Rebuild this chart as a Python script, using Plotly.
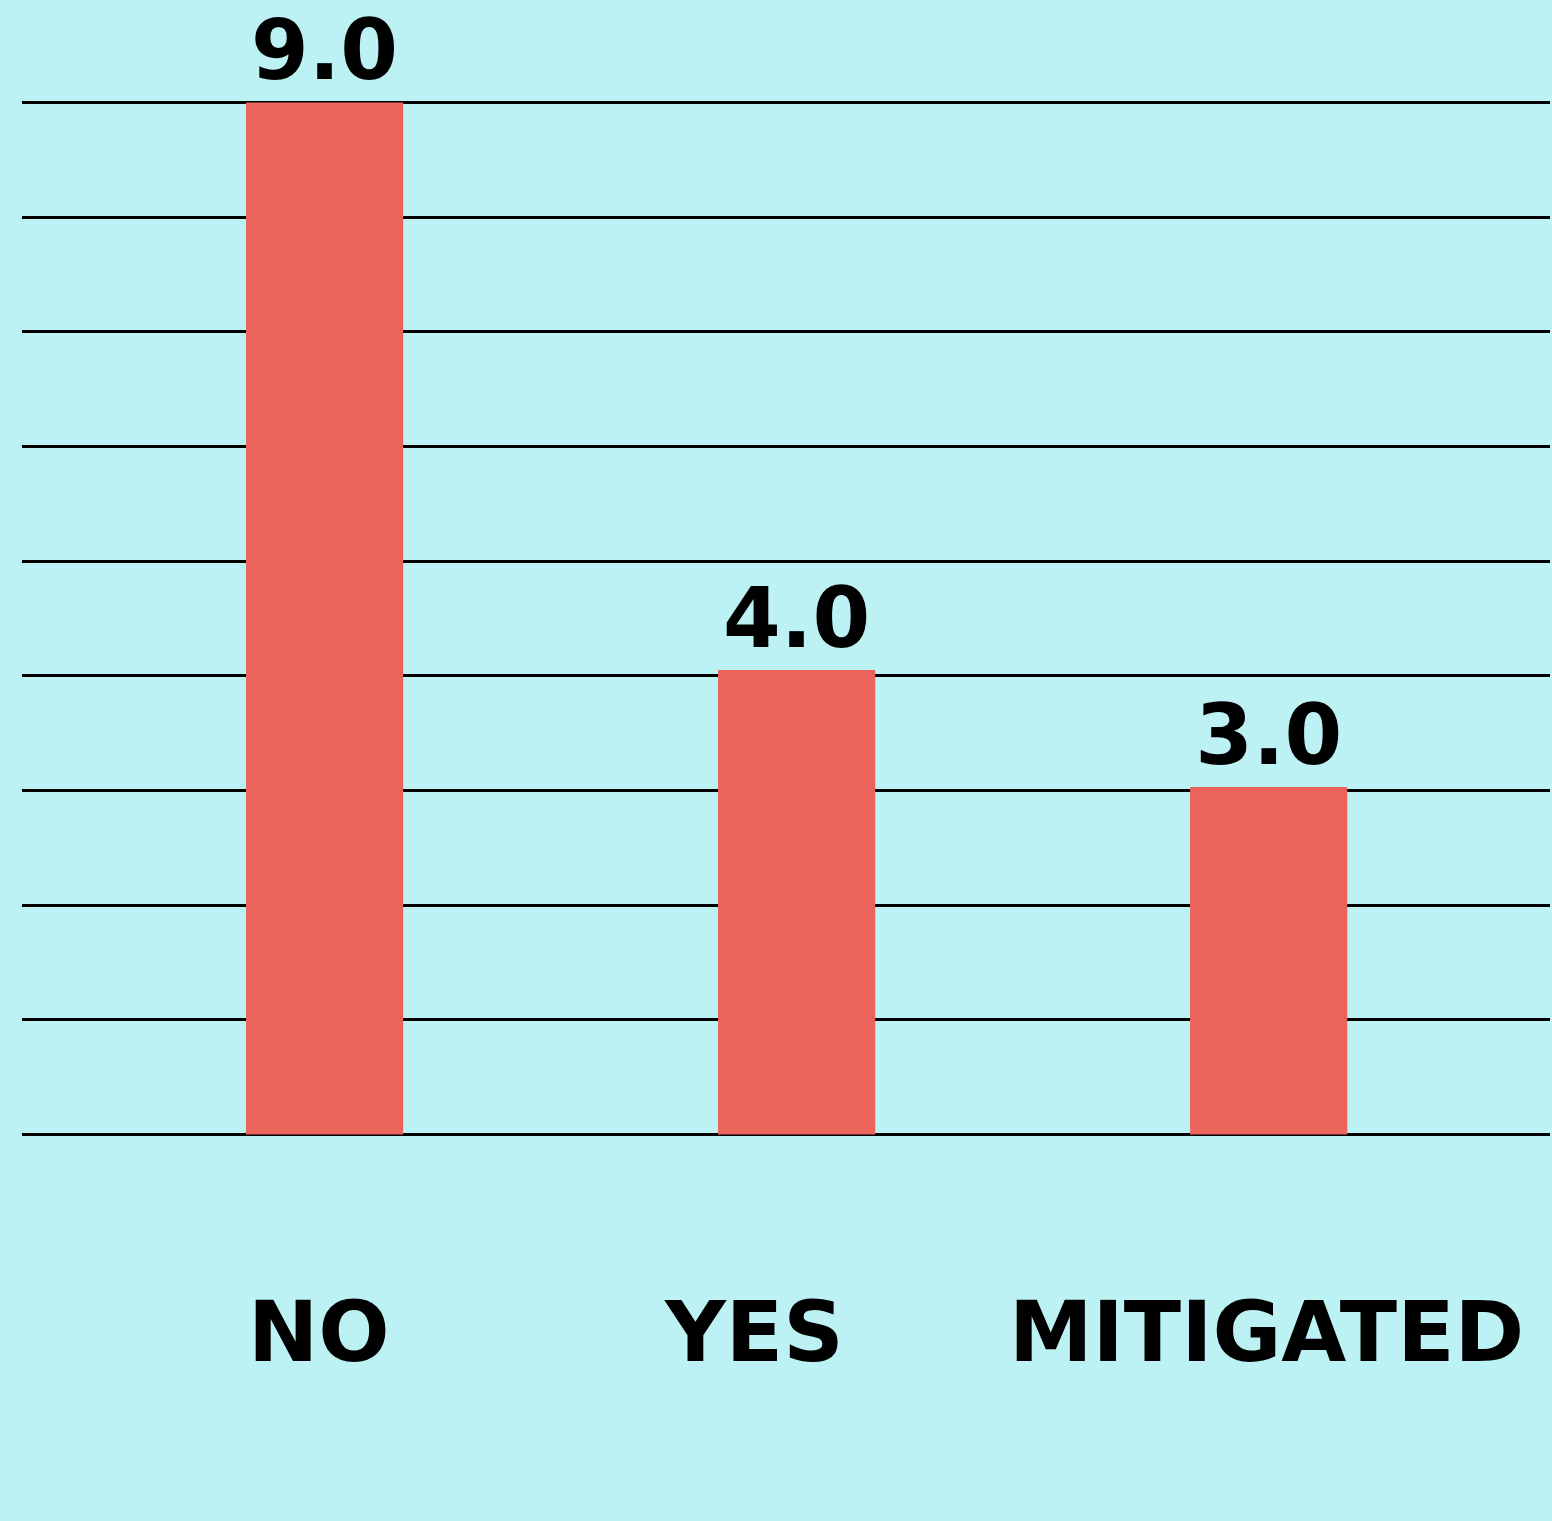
import plotly.graph_objects as go

categories = ["NO", "YES", "MITIGATED"]
values = [9.0, 4.05, 3.03]
label_shift = [-6, -43, -2]

BG = "#BDF2F5"
BAR = "#EA645C"
VAL_FONT = "DejaVu Sans"
CAT_FONT = "DejaVu Sans"

fig = go.Figure()
fig.add_trace(go.Bar(
    x=categories, y=values,
    marker=dict(color=BAR, line=dict(width=0)),
    texttemplate="%{y:.1f}", textposition="outside",
    textfont=dict(family=VAL_FONT, size=83, color="#000000", weight="bold"),
    cliponaxis=False, hoverinfo="skip",
))

for c, s in zip(categories, label_shift):
    fig.add_annotation(x=c, xref="x", y=-0.176, yref="paper", yanchor="middle",
                       text=c, showarrow=False, xshift=s,
                       font=dict(family=CAT_FONT, size=84, color="#000000", weight="bold"))

fig.update_layout(
    width=1552, height=1521,
    paper_bgcolor=BG, plot_bgcolor=BG,
    margin=dict(l=22, r=2, t=91, b=375),
    bargap=0.667, showlegend=False,
    xaxis=dict(type="category", range=[-0.641, 2.596], showticklabels=False,
               showgrid=False, zeroline=False, showline=False, ticks=""),
    yaxis=dict(range=[-0.1, 9.1], dtick=1, tick0=0, showticklabels=False,
               showgrid=True, gridcolor="#000000", gridwidth=2.5,
               zeroline=False, showline=False, ticks=""),
)

fig.write_html(
    "out.html",
    config={"displayModeBar": False},
    post_script="document.body.style.margin='0';document.body.style.background='#BDF2F5';document.body.style.overflow='hidden';",
)
